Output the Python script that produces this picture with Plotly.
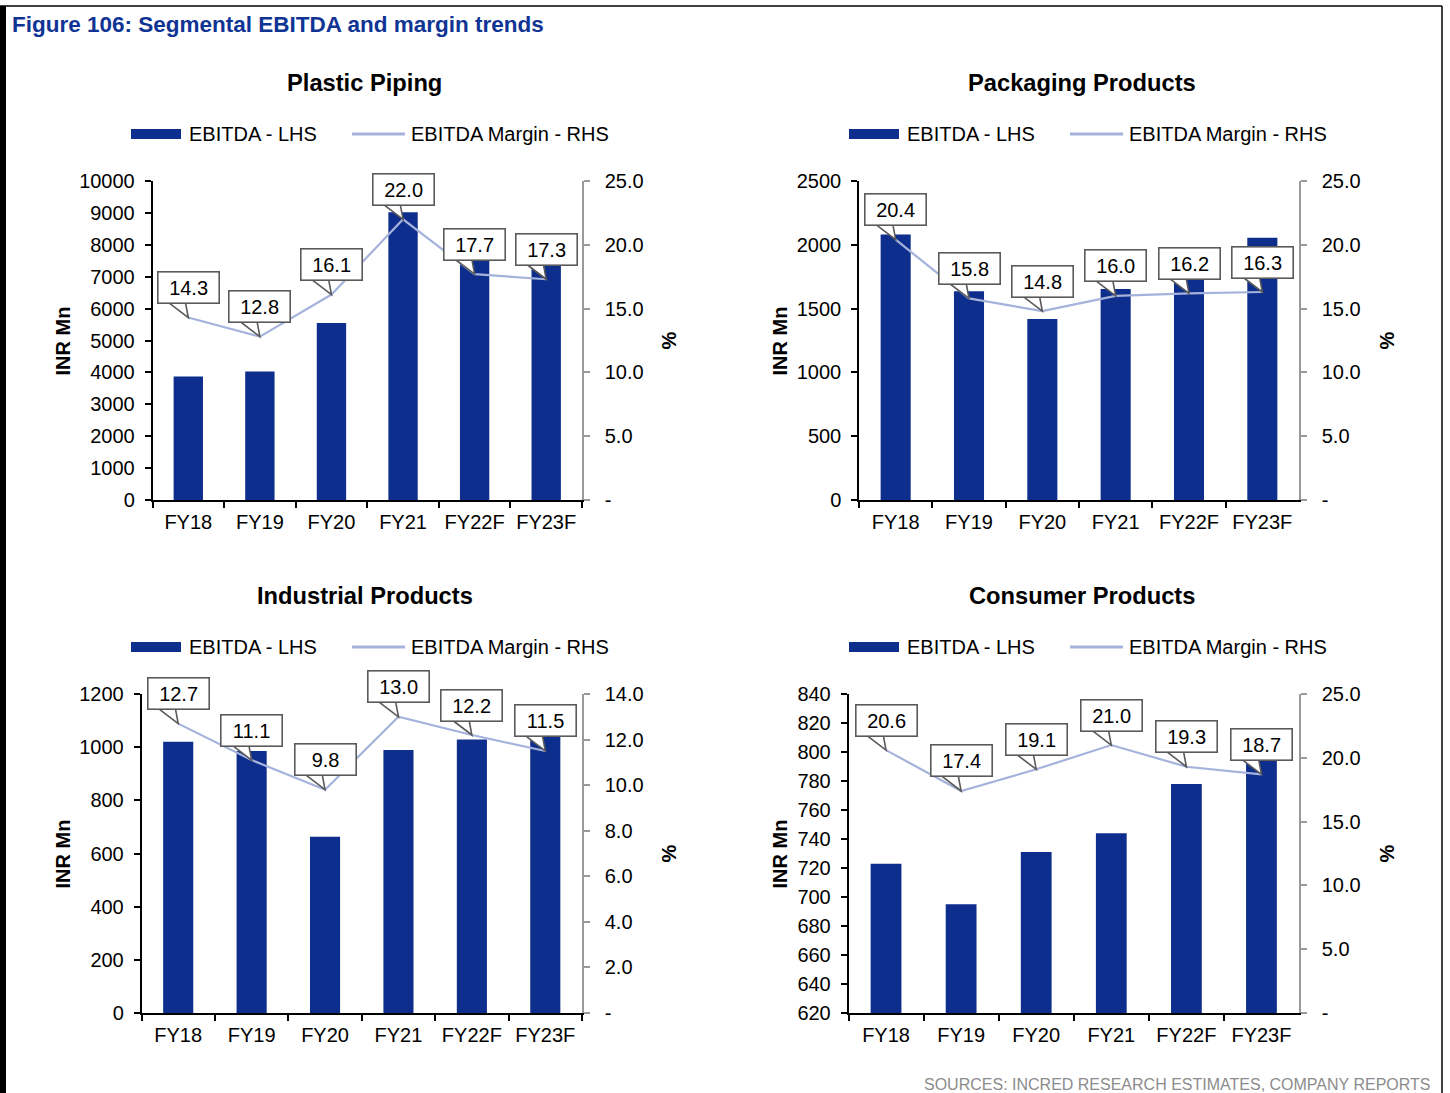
import plotly.graph_objects as go

# ---- data -------------------------------------------------------------
categories = ["FY18", "FY19", "FY20", "FY21", "FY22F", "FY23F"]

piping_ebitda = [3870, 4030, 5550, 9020, 7530, 7400]
piping_margin = [14.3, 12.8, 16.1, 22.0, 17.7, 17.3]

packaging_ebitda = [2080, 1636, 1419, 1654, 1740, 2055]
packaging_margin = [20.4, 15.8, 14.8, 16.0, 16.2, 16.3]

industrial_ebitda = [1020, 986, 663, 989, 1029, 1040]
industrial_margin = [12.7, 11.1, 9.8, 13.0, 12.2, 11.5]

consumer_ebitda = [723, 695, 731, 744, 778, 795]
consumer_margin = [20.6, 17.4, 19.1, 21.0, 19.3, 18.7]

panel_titles = ["Plastic Piping", "Packaging Products", "Industrial Products", "Consumer Products"]
lhs_ranges = [(0, 10000, 1000), (0, 2500, 500), (0, 1200, 200), (620, 840, 20)]
rhs_ranges = [(0, 25, 5), (0, 25, 5), (0, 14, 2), (0, 25, 5)]

# ---- styling ----------------------------------------------------------
W, H = 1450, 1093
FONT = "Liberation Sans, Arial, sans-serif"
BAR_COLOR = "#0d2e8c"
LINE_COLOR = "#a5b3dc"
TITLE_BLUE = "#103494"
BOX_EDGE = "#5a5a5a"
RHS_AXIS = "#9a9a9a"

# plot-area boxes in pixels: (left, right, top, bottom)
panels = [
    (152.5, 582, 181, 500),
    (859, 1299, 181, 500),
    (141.5, 582, 694, 1013),
    (848.5, 1299, 694, 1013),
]
# left edge of each column's legend and title centre
col_left = [0, 718, 0, 718]
title_cx = [364.5, 1082, 364.5, 1082]
row_title_y = [83, 83, 596, 596]
row_legend_y = [134, 134, 647, 647]
ylab_x = [62, 779, 62, 779]
pct_x = [668, 1386, 668, 1386]

ebitda_sets = [piping_ebitda, packaging_ebitda, industrial_ebitda, consumer_ebitda]
margin_sets = [piping_margin, packaging_margin, industrial_margin, consumer_margin]


def px(x):
    return x / W


def py(y):
    return 1 - y / H


fig = go.Figure()
shapes = []
annotations = []
layout_axes = {}

for i in range(4):
    xa = "x" if i == 0 else f"x{i + 1}"
    yl = "y" if i == 0 else f"y{2 * i + 1}"
    yr = f"y{2 * i + 2}"
    xa_key = "xaxis" if i == 0 else f"xaxis{i + 1}"
    yl_key = "yaxis" if i == 0 else f"yaxis{2 * i + 1}"
    yr_key = f"yaxis{2 * i + 2}"

    left, right, top, bottom = panels[i]

    fig.add_trace(go.Bar(
        x=categories, y=ebitda_sets[i], name="EBITDA - LHS",
        marker=dict(color=BAR_COLOR, line=dict(width=0)),
        width=0.41, xaxis=xa, yaxis=yl, showlegend=False,
    ))
    fig.add_trace(go.Scatter(
        x=categories, y=margin_sets[i], name="EBITDA Margin - RHS",
        mode="lines", line=dict(color=LINE_COLOR, width=2.2),
        xaxis=xa, yaxis=yr, showlegend=False,
    ))

    lo, hi, step = lhs_ranges[i]
    rlo, rhi, rstep = rhs_ranges[i]
    rvals = list(range(rlo, rhi + 1, rstep))
    rtext = ["-" if v == 0 else f"{v:.1f}" for v in rvals]

    layout_axes[xa_key] = dict(
        domain=[px(left), px(right)], anchor=yl, type="category",
        automargin=False,
        showline=True, linecolor="#000000", linewidth=1.5,
        ticks="outside", tickson="boundaries", ticklen=6, tickcolor="#000000",
        tickwidth=1.5, showgrid=False, zeroline=False, ticklabelstandoff=3,
        tickfont=dict(family=FONT, size=20, color="#000000"),
        range=[-0.5, 5.5],
    )
    layout_axes[yl_key] = dict(
        domain=[py(bottom), py(top)], anchor=xa, range=[lo, hi], dtick=step,
        tick0=lo, tickformat="d", automargin=False,
        showline=True, linecolor="#000000", linewidth=1.5,
        ticks="outside", ticklen=6, tickcolor="#000000", tickwidth=1.5,
        showgrid=False, zeroline=False, ticklabelstandoff=6,
        tickfont=dict(family=FONT, size=20, color="#000000"),
    )
    layout_axes[yr_key] = dict(
        domain=[py(bottom), py(top)], anchor=xa, overlaying=yl, side="right",
        range=[rlo, rhi], tickvals=rvals, ticktext=rtext, automargin=False,
        showline=True, linecolor=RHS_AXIS, linewidth=1.5,
        ticks="outside", ticklen=6, tickcolor=RHS_AXIS, tickwidth=1.5,
        showgrid=False, zeroline=False, ticklabelstandoff=11,
        tickfont=dict(family=FONT, size=20, color="#000000"),
    )

    # panel title
    annotations.append(dict(
        x=px(title_cx[i]), y=py(row_title_y[i]), xref="paper", yref="paper",
        text=f"<b>{panel_titles[i]}</b>", showarrow=False,
        xanchor="center", yanchor="middle",
        font=dict(family=FONT, size=23.7, color="#000000"),
    ))

    # legend: bar swatch + label, line swatch + label
    cl = col_left[i]
    ly = row_legend_y[i]
    shapes.append(dict(
        type="rect", xref="paper", yref="paper",
        x0=px(cl + 131), x1=px(cl + 181), y0=py(ly + 5), y1=py(ly - 5),
        fillcolor=BAR_COLOR, line=dict(width=0), layer="above",
    ))
    annotations.append(dict(
        x=px(cl + 187), y=py(ly), xref="paper", yref="paper",
        text="EBITDA - LHS", showarrow=False, xanchor="left", yanchor="middle",
        font=dict(family=FONT, size=20, color="#000000"),
    ))
    shapes.append(dict(
        type="line", xref="paper", yref="paper",
        x0=px(cl + 352), x1=px(cl + 405), y0=py(ly), y1=py(ly),
        line=dict(color=LINE_COLOR, width=3), layer="above",
    ))
    annotations.append(dict(
        x=px(cl + 409), y=py(ly), xref="paper", yref="paper",
        text="EBITDA Margin - RHS", showarrow=False, xanchor="left", yanchor="middle",
        font=dict(family=FONT, size=20, color="#000000"),
    ))

    # axis titles
    annotations.append(dict(
        x=px(ylab_x[i]), y=py((top + bottom) / 2 + 1), xref="paper", yref="paper",
        text="<b>INR Mn</b>", showarrow=False, textangle=-90,
        xanchor="center", yanchor="middle",
        font=dict(family=FONT, size=20, color="#000000"),
    ))
    annotations.append(dict(
        x=px(pct_x[i]), y=py((top + bottom) / 2), xref="paper", yref="paper",
        text="<b>%</b>", showarrow=False, textangle=-90,
        xanchor="center", yanchor="middle",
        font=dict(family=FONT, size=20, color="#000000"),
    ))

    # value callouts on the margin line: a pointer wedge plus a boxed label
    for cat, val in zip(categories, margin_sets[i]):
        shapes.append(dict(
            type="path", xref=xa, yref=yr, xsizemode="pixel", ysizemode="pixel",
            xanchor=cat, yanchor=val, path="M-21,16 L0,0 L-3,16",
            fillcolor="#ffffff", line=dict(color=BOX_EDGE, width=1.6), layer="above",
        ))
        annotations.append(dict(
            x=cat, y=val, xref=xa, yref=yr, yshift=30,
            text=f"{val:.1f}", showarrow=False, xanchor="center", yanchor="middle",
            width=57, height=27, borderpad=1.5, borderwidth=1.6,
            bordercolor=BOX_EDGE, bgcolor="#ffffff", align="center", valign="middle",
            font=dict(family=FONT, size=20, color="#000000"),
        ))

# figure heading and source line
annotations.append(dict(
    x=px(10), y=py(25), xref="paper", yref="paper",
    text="<b>Figure 106: Segmental EBITDA and margin trends</b>", showarrow=False,
    xanchor="left", yanchor="middle",
    font=dict(family=FONT, size=22.5, color=TITLE_BLUE),
))
annotations.append(dict(
    x=px(1432), y=py(1084), xref="paper", yref="paper",
    text="SOURCES: INCRED RESEARCH ESTIMATES, COMPANY REPORTS", showarrow=False,
    xanchor="right", yanchor="middle",
    font=dict(family=FONT, size=16, color="#8c8c8c"),
))

# page frame
shapes.append(dict(type="rect", xref="paper", yref="paper",
                   x0=0, x1=px(6), y0=0, y1=py(6),
                   fillcolor="#000000", line=dict(width=0), layer="above"))
shapes.append(dict(type="line", xref="paper", yref="paper",
                   x0=0, x1=px(1442), y0=py(6), y1=py(6),
                   line=dict(color="#000000", width=1.5), layer="above"))
shapes.append(dict(type="line", xref="paper", yref="paper",
                   x0=px(1442), x1=px(1442), y0=0, y1=py(6),
                   line=dict(color="#000000", width=1.5), layer="above"))

fig.update_layout(
    width=W, height=H, autosize=False,
    margin=dict(l=0, r=0, t=0, b=0, pad=0),
    paper_bgcolor="#ffffff", plot_bgcolor="#ffffff",
    barmode="group", showlegend=False,
    font=dict(family=FONT, size=20, color="#000000"),
    shapes=shapes, annotations=annotations,
    **layout_axes,
)

fig.write_html("out.html")
